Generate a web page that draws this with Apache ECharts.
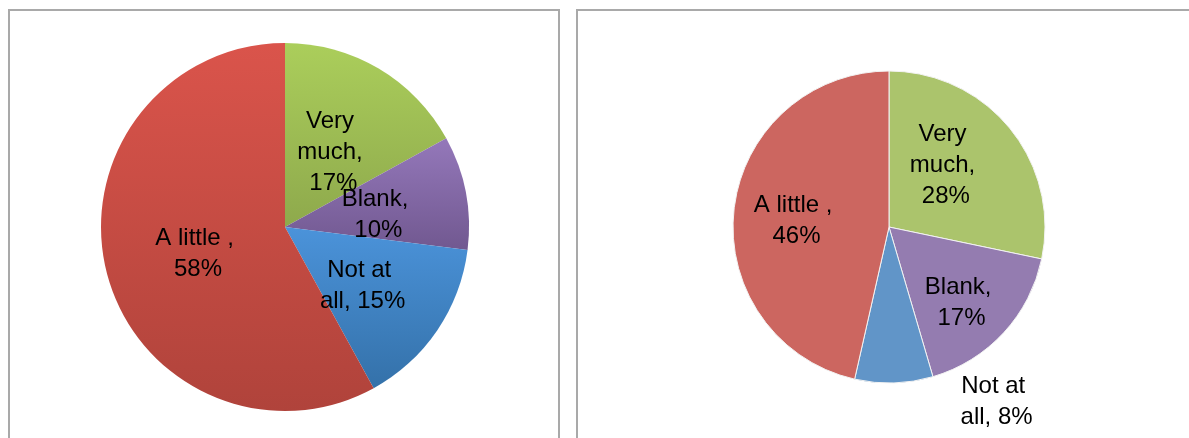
<!DOCTYPE html>
<html>
<head>
<meta charset="utf-8">
<script src="https://cdn.jsdelivr.net/npm/echarts@6/dist/echarts.min.js"></script>
<style>
  html, body { margin: 0; padding: 0; background: #fff; }
  #wrap { position: relative; width: 1189px; height: 438px; overflow: hidden; }
  .box { position: absolute; border: 2px solid #a9a9a9; box-sizing: border-box; }
  #chart { position: absolute; left: 0; top: 0; width: 1189px; height: 438px; }
</style>
</head>
<body>
<div id="wrap">
  <div class="box" style="left:8px;top:9px;width:552px;height:460px;"></div>
  <div class="box" style="left:576px;top:9px;width:640px;height:460px;"></div>
  <div id="chart"></div>
</div>
<script>
// categories, clockwise from 12 o'clock
var categories = ['Very much', 'Blank', 'Not at all', 'A little '];
// percentages as printed on the two pies
var leftValues = [17, 10, 15, 58];
var rightValues = [28, 17, 8, 46];

// left pie: office-style vertical gradients (top, bottom)
var leftColors = [
  ['#abce5b', '#8ea94c'],
  ['#9478ba', '#715890'],
  ['#4b93da', '#3471a9'],
  ['#da544b', '#b0433b']
];
var rightColors = ['#abc46c', '#947cb0', '#6195c8', '#cc6660'];
// nudges so the labels sit where the original put them
var leftOffsets = [[0, 7], [0, 6], [-1, 5], [5, 3]];
var rightOffsets = [[-6, -11], [13, 21], [105, 94], [-12, 3]];

var labelBase = {
  show: true,
  position: 'inside',
  formatter: '{b}, {c}%',
  color: '#000',
  fontFamily: 'Liberation Sans, Arial, sans-serif',
  fontSize: 24,
  lineHeight: 31,
  width: 92,
  overflow: 'break'
};

function grad(c) {
  return new echarts.graphic.LinearGradient(0, 0, 0, 1, [
    { offset: 0, color: c[0] },
    { offset: 1, color: c[1] }
  ]);
}

var chart = echarts.init(document.getElementById('chart'), null, { renderer: 'canvas' });
chart.setOption({
  animation: false,
  series: [
    {
      type: 'pie',
      center: [285, 227],
      radius: 184,
      startAngle: 90,
      clockwise: true,
      label: labelBase,
      labelLine: { show: false },
      labelLayout: { hideOverlap: false },
      itemStyle: { borderWidth: 0 },
      emphasis: { disabled: true },
      data: categories.map(function (name, i) {
        return {
          name: name,
          value: leftValues[i],
          itemStyle: { color: grad(leftColors[i]) },
          label: { offset: leftOffsets[i] }
        };
      })
    },
    {
      type: 'pie',
      center: [889, 227],
      radius: 156,
      startAngle: 90,
      clockwise: true,
      label: labelBase,
      labelLine: { show: false },
      labelLayout: { hideOverlap: false },
      itemStyle: { borderColor: '#f2f2f2', borderWidth: 1 },
      emphasis: { disabled: true },
      data: categories.map(function (name, i) {
        return {
          name: name,
          value: rightValues[i],
          itemStyle: { color: rightColors[i] },
          label: { offset: rightOffsets[i] }
        };
      })
    }
  ]
});
</script>
</body>
</html>
